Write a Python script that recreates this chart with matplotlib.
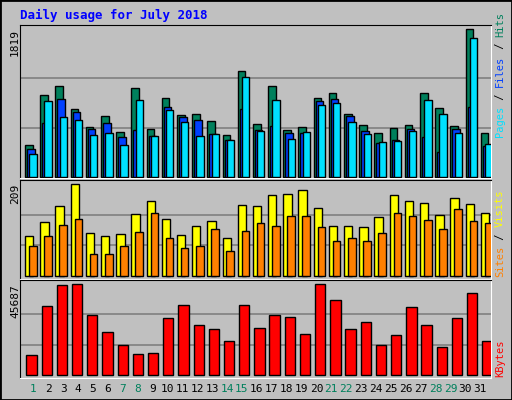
import matplotlib
matplotlib.use('Agg')
import matplotlib.pyplot as plt
from matplotlib.patches import Rectangle
import numpy as np

days = list(range(1, 32))
weekend = [1, 7, 8, 14, 15, 21, 22, 28, 29]
hits = [387, 1004, 1115, 831, 609, 745, 547, 1091, 584, 967, 757, 770, 683, 510, 1300,
        646, 1115, 572, 609, 967, 1029, 770, 634, 535, 597, 634, 1029, 844, 621, 1819, 535]
files = [337, 658, 955, 794, 584, 658, 485, 572, 498, 856, 733, 696, 523, 449, 831,
         572, 621, 535, 535, 930, 955, 745, 560, 412, 449, 584, 485, 300, 584, 856, 374]
pages = [276, 930, 733, 696, 510, 535, 387, 942, 498, 819, 671, 498, 523, 449, 1226,
         560, 942, 461, 547, 881, 905, 671, 523, 424, 436, 560, 942, 770, 535, 1708, 399]
visits = [91, 123, 159, 209, 98, 91, 95, 141, 172, 129, 93, 114, 125, 86, 161,
          159, 184, 186, 197, 155, 114, 114, 111, 134, 184, 170, 166, 139, 177, 164, 143]
sites = [68, 91, 116, 129, 50, 50, 68, 100, 143, 86, 64, 68, 107, 57, 102,
         120, 114, 136, 136, 111, 79, 86, 79, 97, 143, 136, 127, 107, 152, 125, 120]
kbytes = [10169, 34673, 45177, 45687, 30172, 21670, 15169, 10669, 11169, 28671, 35173,
          25171, 23170, 17170, 35173, 23670, 30172, 29171, 20670, 45687, 37674, 23170,
          26671, 15169, 20170, 34173, 25171, 14169, 28671, 41180, 17170]

GRAY = '#C0C0C0'
W, H = 512, 400
fig = plt.figure(figsize=(W / 100, H / 100), dpi=100, facecolor=GRAY)
fig.patches.append(Rectangle((0, 0), 1, 1, transform=fig.transFigure, fill=False,
                             edgecolor='black', linewidth=2))
mono = 'DejaVu Sans Mono'
x = np.arange(31)


def make_ax(top, bottom):
    ax = fig.add_axes([20 / W, 1 - bottom / H, 471 / W, (bottom - top) / H])
    ax.set_facecolor(GRAY)
    ax.set_xlim(0, 31)
    ax.set_xticks([])
    ax.set_yticks([])
    for s in ['top', 'left']:
        ax.spines[s].set_color('black')
    for s in ['bottom', 'right']:
        ax.spines[s].set_color('white')
    return ax


def bars(ax, off, width, vals, color):
    ax.bar(x + off, vals, width=width, align='edge', color=color,
           edgecolor='black', linewidth=1, zorder=3)


def grid(ax, vmax):
    for f in (1 / 3, 2 / 3):
        ax.axhline(vmax * f, color='#808080', linewidth=1.2, zorder=1)


# top panel: hits / files / pages
ax1 = make_ax(25, 178)
ax1.set_ylim(-16, 1872)
grid(ax1, max(hits))
bars(ax1, 0.33, 0.5, hits, '#00805C')
bars(ax1, 0.46, 0.5, files, '#0040FF')
bars(ax1, 0.61, 0.48, pages, '#00E0FF')

# middle panel: visits / sites
ax2 = make_ax(180, 279)
ax2.set_ylim(-7, 219)
grid(ax2, max(visits))
bars(ax2, 0.33, 0.55, visits, '#FFFF00')
bars(ax2, 0.59, 0.5, sites, '#FF8000')

# bottom panel: kbytes
ax3 = make_ax(280, 378)
ax3.set_ylim(-1300, 47687)
grid(ax3, max(kbytes))
bars(ax3, 0.42, 0.68, kbytes, '#FF0000')

# day labels
for i, d in enumerate(days):
    px = 33.3 + 14.9 * i
    fig.text(px / W, 1 - 389 / H, str(d), ha='center', va='center', fontsize=8,
             family=mono, color='#00805C' if d in weekend else 'black')

fig.text(20 / W, 1 - 15 / H, 'Daily usage for July 2018', ha='left', va='center',
         fontsize=9, family=mono, fontweight='bold', color='#0000FF')

# left max values
for y, v in [(29, max(hits)), (184, max(visits)), (284, max(kbytes))]:
    fig.text(15 / W, 1 - y / H, str(v), rotation=90, ha='center', va='top',
             fontsize=8, family=mono)

RFS = 7.5
CH = 0.602 * RFS * 100 / 72  # char advance in px


def right_label(parts, ybottom):
    y = ybottom
    for txt, col in parts:
        fig.text(500 / W, 1 - y / H, txt, rotation=90, ha='center', va='bottom',
                 fontsize=RFS, family=mono, color=col)
        y -= len(txt) * CH


right_label([('Pages', '#00E0FF'), (' / ', 'black'), ('Files', '#0040FF'),
             (' / ', 'black'), ('Hits', '#00805C')], 137)
right_label([('Sites', '#FF8000'), (' / ', 'black'), ('Visits', '#FFFF00')], 277)
right_label([('KBytes', '#FF0000')], 377)

fig.savefig('out.png', dpi=100, facecolor=GRAY)
